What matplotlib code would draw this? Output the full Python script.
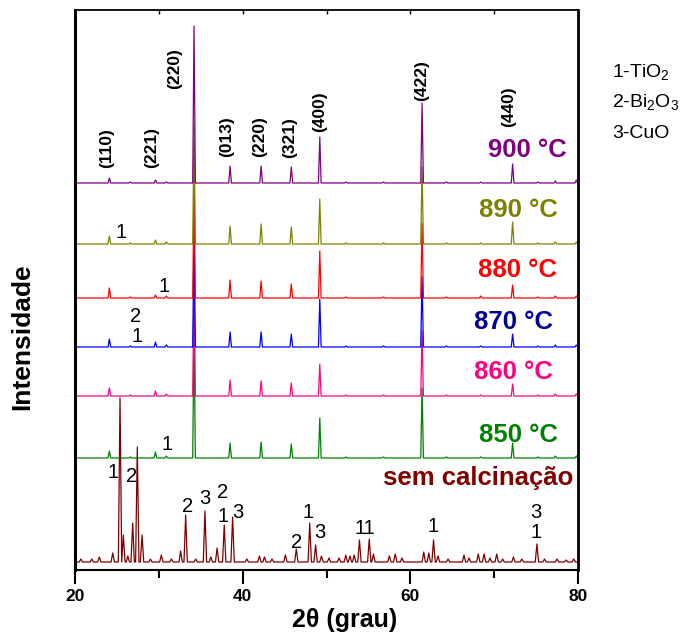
import matplotlib
matplotlib.use("Agg")
import matplotlib.pyplot as plt
from matplotlib.ticker import MultipleLocator

plt.rcParams['font.family'] = ['Liberation Sans', 'DejaVu Sans']
plt.rcParams['mathtext.default'] = 'regular'

# ---------------- data ----------------
# calcined samples: peak positions (2theta) shared by all temperatures
cal_pos = [24.1, 26.6, 29.6, 30.9, 34.2, 38.5, 42.2, 45.8, 49.2, 52.3, 56.8, 61.4, 64.3, 68.4, 72.2, 75.2, 77.3, 79.8]
# peak heights (arbitrary units) for each temperature
h_900 = [5, 1, 3, 1, 157, 17, 17, 16, 46, 1, 1, 80, 1, 1, 19, 1, 2, 3]
h_890 = [8, 1, 4, 2, 120, 18, 20, 17, 45, 1, 1, 77, 1, 1, 22, 1, 2, 2]
h_880 = [10, 1, 3, 2, 110, 18, 17, 14, 47, 1, 1, 75, 1, 2, 13, 1, 2, 2]
h_870 = [8, 1, 5, 2, 115, 15, 15, 13, 48, 1, 1, 70, 1, 1, 13, 1, 2, 2]
h_860 = [8, 1, 5, 2, 120, 16, 15, 13, 32, 1, 1, 65, 1, 1, 12, 1, 2, 2]
h_850 = [7, 1, 6, 2, 130, 15, 16, 14, 40, 1, 1, 70, 1, 1, 15, 1, 2, 2]

# uncalcined sample ("sem calcinação")
sem_pos = [20.7, 22.0, 22.9, 24.5, 25.37, 25.77, 26.3, 26.88, 27.43, 28.0, 29.0, 30.3, 31.5,
           32.6, 33.2, 34.4, 35.5, 36.2, 36.95, 37.8, 38.8, 40.5, 42.0, 42.6, 43.5, 45.1,
           46.4, 48.0, 48.7, 49.4, 50.3, 51.5, 52.3, 52.8, 53.3, 53.93, 55.1, 55.6, 57.5,
           58.2, 59.0, 61.6, 62.2, 62.77, 63.3, 64.5, 66.4, 67.0, 68.1, 68.8, 69.5, 70.3,
           71.0, 72.3, 73.3, 75.1, 76.0, 77.5, 78.6, 79.5]
sem_h = [3, 3, 5, 9, 164, 27, 6, 39, 115, 27, 3, 7, 3,
         11, 47, 3, 51, 5, 14, 37, 45, 3, 6, 5, 3, 7,
         13, 39, 17, 6, 4, 4, 7, 6, 7, 22, 23, 8, 6,
         8, 4, 10, 9, 22, 6, 3, 7, 4, 8, 8, 4, 8,
         3, 5, 3, 18, 3, 3, 2, 3]

# vertical offsets of the stacked patterns
labels = ['sem calcinação', '850 °C', '860 °C', '870 °C', '880 °C', '890 °C', '900 °C']
offsets = [8, 112, 174, 223, 272, 326, 387]

# Miller indices
hkl_text = ['(110)', '(221)', '(220)', '(013)', '(220)', '(321)', '(400)', '(422)', '(440)']
hkl_x = [23.78, 29.15, 31.93, 38.10, 42.07, 45.65, 49.14, 61.36, 71.69]
hkl_y = [422, 423, 501, 433, 433, 432, 458, 489, 463]

# phase numbers (1-TiO2, 2-Bi2O3, 3-CuO)
num_text = ['1', '2', '2', '3', '2', '1', '3', '2', '1', '3', '11', '1', '3', '1',
            '1', '1', '1', '2', '1']
num_x = [24.53, 26.76, 33.44, 35.51, 37.57, 37.69, 39.41, 46.45, 47.83, 49.23, 54.59, 62.67, 74.99, 74.99,
         31.01, 25.45, 30.62, 27.28, 27.36]
num_y = [97, 93, 63, 72, 77, 53, 57, 28, 57, 38, 41, 43, 57, 37,
         126, 338, 283, 254, 234]

label_x = [79.4, 77.62, 77.02, 77.02, 77.50, 77.62, 78.69]
label_y = [92, 135, 198, 248, 300, 360, 420]

# ---------------- styles ----------------
line_colors = ['#800000', '#008000', '#FF0080', '#0000FF', '#FF0000', '#808000', '#800080']
text_colors = ['#800000', '#008000', '#FF0080', '#000099', '#FF0000', '#808000', '#800080']


def polyline(pos, hts, w):
    xs, ys = [20.0], [0.0]
    for p, h in zip(pos, hts):
        xs += [p - w, p, p + w]
        ys += [0.0, h, 0.0]
    xs.append(80.0)
    ys.append(0.0)
    return xs, ys


fig = plt.figure(figsize=(6.84, 6.32), dpi=100)
ax = fig.add_axes([75 / 684, 62 / 632, 503 / 684, 560 / 632])

series = [(sem_pos, sem_h, 0.2), (cal_pos, h_850, 0.16), (cal_pos, h_860, 0.16),
          (cal_pos, h_870, 0.16), (cal_pos, h_880, 0.16), (cal_pos, h_890, 0.16),
          (cal_pos, h_900, 0.16)]
for (pos, hts, w), off, c in zip(series, offsets, line_colors):
    xs, ys = polyline(pos, hts, w)
    ax.plot(xs, [y + off for y in ys], color=c, lw=0.9)

for t, x, y, c in zip(labels, label_x, label_y, text_colors):
    ax.text(x, y, t, color=c, fontsize=18.5, fontweight='bold', ha='right', va='center')

for t, x, y in zip(hkl_text, hkl_x, hkl_y):
    ax.text(x, y, t, rotation=90, fontsize=12.5, fontweight='bold', ha='center', va='center')

for t, x, y in zip(num_text, num_x, num_y):
    ax.text(x, y, t, fontsize=14.5, ha='center', va='center')

ax.set_xlim(20, 80)
ax.set_ylim(0, 560)
ax.set_yticks([])
ax.xaxis.set_major_locator(MultipleLocator(20))
ax.xaxis.set_minor_locator(MultipleLocator(10))
ax.tick_params(axis='x', which='major', direction='out', length=10, width=1.5,
               labelsize=12.5, pad=4)
ax.tick_params(axis='x', which='minor', direction='out', length=6, width=1.5)
for lbl in ax.get_xticklabels():
    lbl.set_fontweight('bold')
ax.spines['left'].set_linewidth(2.2)
ax.spines['right'].set_linewidth(2.0)
ax.spines['top'].set_linewidth(1.3)
ax.spines['bottom'].set_linewidth(1.5)

# top ticks
axt = ax.secondary_xaxis('top')
axt.xaxis.set_major_locator(MultipleLocator(10))
axt.tick_params(direction='in', length=3, width=1.0, labeltop=False)
axt.spines['top'].set_visible(False)

fig.text(345 / 684, 1 - 620 / 632, '2θ (grau)', fontsize=18, fontweight='bold',
         ha='center', va='center')
fig.text(22 / 684, 1 - 337 / 632, 'Intensidade', fontsize=19, fontweight='bold',
         rotation=90, ha='center', va='center')

legend_lines = ['1-TiO$_2$', '2-Bi$_2$O$_3$', '3-CuO']
legend_y = [72, 102, 133]
for t, y in zip(legend_lines, legend_y):
    fig.text(612 / 684, 1 - y / 632, t, fontsize=14, ha='left', va='center')

fig.savefig('out.png', dpi=100)
